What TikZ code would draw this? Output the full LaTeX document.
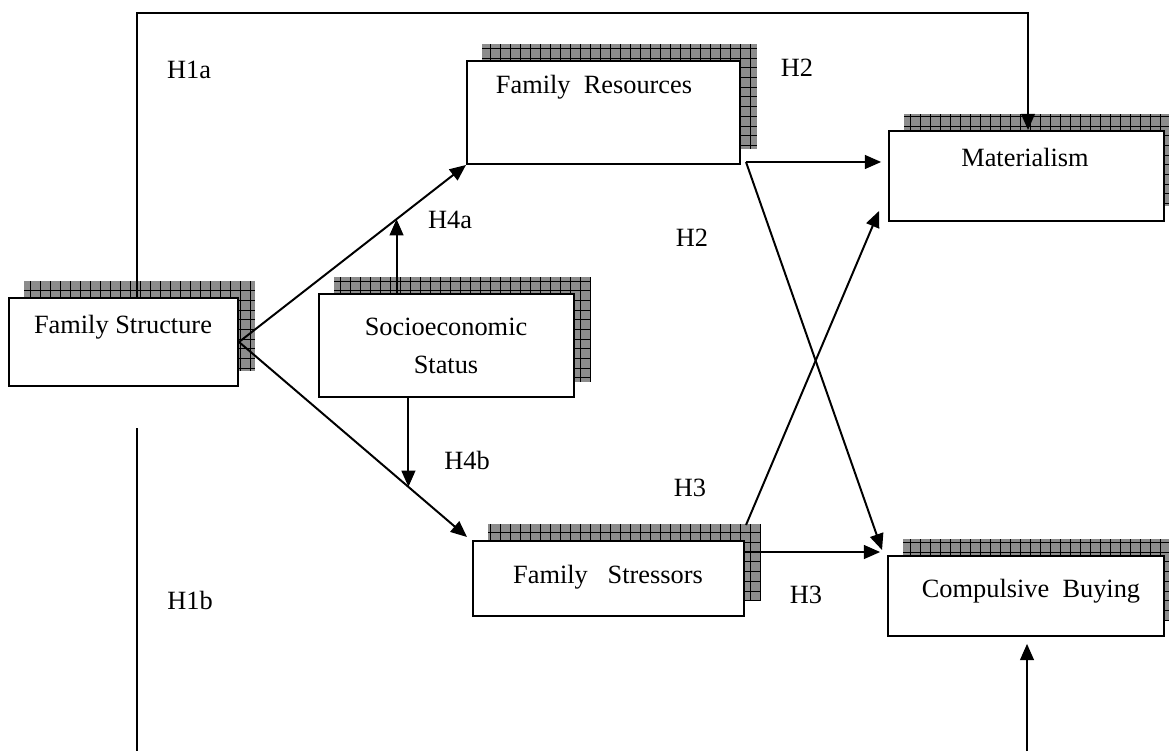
\documentclass[tikz,border=0pt]{standalone}
\usepackage{fontspec}
\setmainfont{Liberation Serif}
\usepackage{tikz}
\usetikzlibrary{arrows.meta, fit, backgrounds}
\tikzstyle{factor} = [rectangle, draw, fill=white, line width=0.9pt, inner sep=0pt]
\tikzstyle{arrow} = [-{Triangle[length=2.6mm,width=2.2mm]}, line width=0.9pt]
\tikzstyle{link} = [line width=0.9pt]
\tikzstyle{hatch} = [fill=black!45]
\tikzstyle{hatchgrid} = [draw=black, line width=0.35pt, xstep=1.6mm, ystep=1.55mm]

% chequered shadow up and to the right of a box
\newcommand{\gridshadow}[1]{%
  \begin{pgfonlayer}{background}
    \fill[hatch] ([shift={(16,-16)}]#1.south west) rectangle ([shift={(16,-16)}]#1.north east);
    \draw[hatchgrid] ([shift={(16,-16)}]#1.south west) grid ([shift={(16,-16)}]#1.north east);
  \end{pgfonlayer}}

\begin{document}
\begin{tikzpicture}[x=0.16mm, y=-0.16mm, font=\fontsize{12}{14.5}\selectfont]
                \useasboundingbox (0,0) rectangle (1169,751);
                % boxes
                \node[factor, fit={(9,298) (238,386)}] (fs) {};
                \node[factor, fit={(467,61) (740,164)}] (fr) {};
                \node[factor, fit={(889,131) (1164,221)}] (mat) {};
                \node[factor, fit={(319,294) (574,397)}] (ses) {};
                \node[factor, fit={(473,541) (744,616)}] (fst) {};
                \node[factor, fit={(888,556) (1164,636)}] (cb) {};
                \gridshadow{fs}
                \gridshadow{fr}
                \gridshadow{mat}
                \gridshadow{ses}
                \gridshadow{fst}
                \gridshadow{cb}
                \node (fstext) at (123,327) {Family Structure};
                \node (frtext) at (594,87) {Family\ \ Resources};
                \node (mattext) at (1025,157) {Materialism};
                \node[align=center, font=\fontsize{12}{17}\selectfont] (sestext) at (446,346) {Socioeconomic\\ Status};
                \node (fsttext) at (608,577) {Family\ \ \ Stressors};
                \node (cbtext) at (1031,591) {Compulsive\ \ Buying};
                % hypothesis labels
                \node (h1a) at (189,70) {H1a};
                \node (h2a) at (797,68) {H2};
                \node (h4a) at (450,220) {H4a};
                \node (h2b) at (692,238) {H2};
                \node (h4b) at (467,460) {H4b};
                \node (h3a) at (690,488) {H3};
                \node (h1b) at (190,600) {H1b};
                \node (h3b) at (806,595) {H3};
                % connectors
                \coordinate (topleft) at (137,13);
                \coordinate (topright) at (1028,13);
                \draw[arrow] (fs.north -| topleft) -- (topleft) -- (topright) -- (mat.north -| topright);
                \coordinate (h1bstart) at (137,428);
                \coordinate (h1bend) at (137,751);
                \draw[link] (h1bstart) -- (h1bend);
                \coordinate (cbin) at (1027,751);
                \draw[arrow, shorten >=1.1mm] (cbin) -- (cbin |- cb.south);
                \draw[arrow] (fs.east) -- coordinate[pos=0.694] (h4apt) (fr.south west);
                \draw[arrow] (fs.east) -- coordinate[pos=0.743] (h4bpt) ([shift={(-5,-3)}]fst.north west);
                \draw[arrow] (ses.north -| h4apt) -- (h4apt);
                \draw[arrow] (ses.south -| h4bpt) -- (h4bpt);
                \coordinate (frout) at ([shift={(5,-3)}]fr.south east);
                \draw[arrow, shorten >=1.1mm] (frout) -- (frout -| mat.west);
                \draw[arrow] (frout) -- ([shift={(-5,-5)}]cb.north west);
                \coordinate (fstup) at ([shift={(1,-15)}]fst.north east);
                \draw[arrow] (fstup) -- ([shift={(-9,-11)}]mat.south west);
                \coordinate (fstout) at ([shift={(0,12)}]fst.north east);
                \draw[arrow, shorten >=1.1mm] (fstout) -- (fstout -| cb.west);
            \end{tikzpicture}
\end{document}
